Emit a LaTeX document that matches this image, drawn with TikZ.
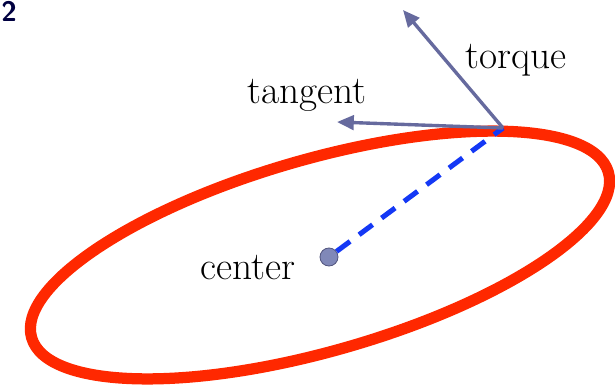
\documentclass[tikz,border=0pt]{standalone}
\usepackage{xcolor}
\usetikzlibrary{arrows.meta,positioning,calc}
\definecolor{orbitred}{HTML}{FF2800}
\definecolor{vecblue}{HTML}{666A9E}
\definecolor{radblue}{HTML}{1438F5}
\definecolor{dotfill}{HTML}{8088B8}

\begin{document}
\begin{tikzpicture}[x=0.025cm, y=0.025cm,
          every node/.style={font=\fontsize{28}{32}\selectfont},
          vec/.style={-{Triangle[length=0.42cm, width=0.36cm]}, line width=2.4pt, draw=vecblue, fill=vecblue},
          radius line/.style={draw=radblue, line width=3.6pt, dash pattern=on 0.42cm off 0.28cm},
          dot/.style={circle, draw=vecblue!80!black, fill=dotfill, line width=0.6pt,
                      minimum size=0.45cm, inner sep=0pt}
      ]
        \useasboundingbox (0,0) rectangle (615,389);

        % page number left over at the corner
        \node[text=black!75!blue, anchor=north west, inner sep=0pt,
              font=\fontsize{20}{24}\selectfont\sffamily\bfseries] (pageno) at (1,388) {2};

        % the orbit
        \draw[orbitred, line width=8pt, rotate around={16:(320,134)}]
              (320,134) ellipse [x radius=300, y radius=96];

        \coordinate (contact) at (503,261);
        \coordinate (torquetip) at (403,379);
        \coordinate (tangenttip) at (337,267);

        \node[dot] (centre) at (329,132) {};

        \draw[radius line] (centre) -- (contact);
        \draw[vec] (contact) -- (torquetip);
        \draw[vec] (contact) -- (tangenttip);

        \node (torquelbl)  at (516,329) {torque};
        \node (tangentlbl) at (307,294) {tangent};
        \node (centrelbl)  at (248,121) {center};
      \end{tikzpicture}
\end{document}
